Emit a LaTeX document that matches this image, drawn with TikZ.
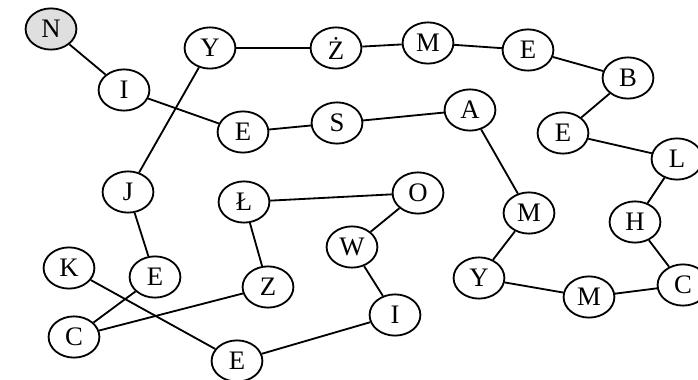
\documentclass[tikz,border=0pt]{standalone}
\usepackage{fontspec}
\setmainfont{Liberation Serif}
\usetikzlibrary{shapes.geometric}

\begin{document}
\begin{tikzpicture}[x=0.025cm,y=-0.025cm, main/.style = {ellipse, draw, line width=1.3pt, minimum width=1.27cm, minimum height=1.03cm, inner sep=0pt, font=\fontsize{19}{21}\selectfont}]
                \useasboundingbox (0,0) rectangle (698,380);
                \node[main,fill=gray!25] (1) at (51,29) {N};
                \node[main] (2) at (124,90) {I};
                \node[main] (3) at (243,132) {E};
                \node[main] (4) at (337,123) {S};
                \node[main] (5) at (470,110) {A};
                \node[main] (6) at (529,213) {M};
                \node[main] (7) at (479,278) {Y};
                \node[main] (8) at (589,297) {M};
                \node[main] (9) at (683,285) {C};
                \node[main] (10) at (635,222) {H};
                \node[main] (11) at (677,159) {L};
                \node[main] (12) at (563,133) {E};
                \node[main] (13) at (628,78) {B};
                \node[main] (14) at (528,50) {E};
                \node[main] (15) at (428,43) {M};
                \node[main] (16) at (336,48) {Ż};
                \node[main] (17) at (210,48) {Y};
                \node[main] (18) at (128,192) {J};
                \node[main] (19) at (155,277) {E};
                \node[main] (20) at (74,337) {C};
                \node[main] (21) at (268,287) {Z};
                \node[main] (22) at (244,202) {Ł};
                \node[main] (23) at (418,193) {O};
                \node[main] (24) at (352,247) {W};
                \node[main] (25) at (395,315) {I};
                \node[main] (26) at (237,361) {E};
                \node[main] (27) at (69,268) {K};
                % nie samym chlebem zyje czlowiek
                \path[line width=1.3pt]
                    (1) edge (2)
                    (2) edge (3)
                    (3) edge (4)
                    (4) edge (5)
                    (5) edge (6)
                    (6) edge (7)
                    (7) edge (8)
                    (8) edge (9)
                    (9) edge (10)
                    (10) edge (11)
                    (11) edge (12)
                    (12) edge (13)
                    (13) edge (14)
                    (14) edge (15)
                    (15) edge (16)
                    (16) edge (17)
                    (17) edge (18)
                    (18) edge (19)
                    (19) edge (20)
                    (20) edge (21)
                    (21) edge (22)
                    (22) edge (23)
                    (23) edge (24)
                    (24) edge (25)
                    (25) edge (26)
                    (26) edge (27);
            \end{tikzpicture}
\end{document}
